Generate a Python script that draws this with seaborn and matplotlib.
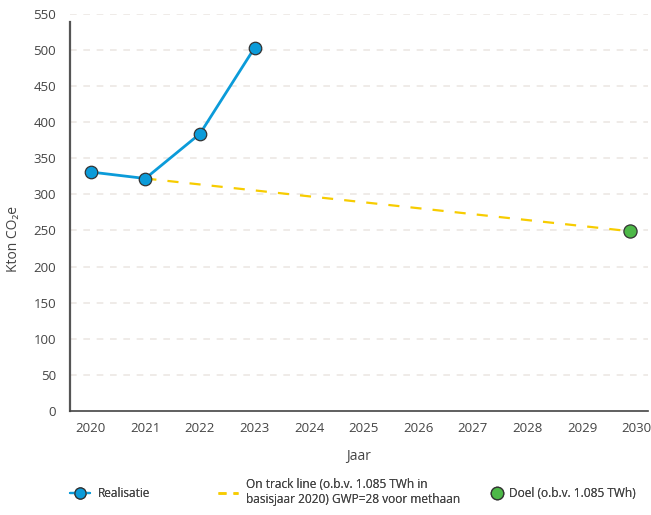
import matplotlib
matplotlib.use("Agg")
import matplotlib.pyplot as plt
from matplotlib.lines import Line2D
import seaborn as sns
import pandas as pd

# data
years = [2020, 2021, 2022, 2023]
realisatie = [331, 322, 384, 503]
track_years = [2021, 2029.87]
track_values = [322, 249]
doel_year = [2029.87]
doel_value = [249]
xticks = list(range(2020, 2031))
yticks = list(range(0, 551, 50))

lbl_real = 'Realisatie'
lbl_track = 'On track line (o.b.v. 1.085 TWh in\nbasisjaar 2020) GWP=28 voor methaan'
lbl_doel = 'Doel (o.b.v. 1.085 TWh)'

sns.set_theme(style="white")
plt.rcParams['font.family'] = ['Open Sans', 'DejaVu Sans']

blue = '#0b9bd9'
yellow = '#f7cc00'
green = '#4db848'
text_col = '#444444'
edge = '#333333'

fig = plt.figure(figsize=(6.51, 5.15), dpi=100)
ax = fig.add_axes([0.1075, 0.202, 0.8875, 0.771])

for y in yticks[1:]:
    ax.axhline(y, color='#ece8e4', lw=1.2, ls=(0, (4, 4)), zorder=0)

sns.lineplot(x=track_years, y=track_values, ax=ax, color=yellow, lw=1.6, zorder=2)
ax.lines[-1].set_dashes([5, 5])
sns.lineplot(x=years, y=realisatie, ax=ax, color=blue, lw=2, marker='o', markersize=9,
             markeredgecolor=edge, markeredgewidth=0.9, zorder=3)
sns.scatterplot(x=doel_year, y=doel_value, ax=ax, color=green, s=90, edgecolor=edge,
                linewidth=0.9, zorder=4)

ax.set_xlim(2019.62, 2030.2)
ax.set_ylim(0, 550)
ax.set_xticks(xticks)
ax.set_yticks(yticks)
ax.tick_params(axis='both', length=0, colors=text_col, labelsize=9.5)
ax.tick_params(axis='x', pad=8)
ax.tick_params(axis='y', pad=10)
for s in ['top', 'right']:
    ax.spines[s].set_visible(False)
ax.spines['left'].set_bounds(0, 539)
ax.spines['left'].set_color('#555555')
ax.spines['left'].set_linewidth(1.6)
ax.spines['bottom'].set_color('#444444')
ax.spines['bottom'].set_linewidth(1.2)
ax.set_xlabel('Jaar', color=text_col, fontsize=10, labelpad=10)
ax.set_ylabel('Kton CO₂e', color=text_col, fontsize=10, labelpad=10)
ax.yaxis.set_label_coords(-0.085, 0.433)

# legend entries, placed one by one like the reference
h_real = Line2D([], [], color=blue, lw=1.6, marker='o', markersize=8,
                markerfacecolor=blue, markeredgecolor=edge, markeredgewidth=0.9)
h_track = Line2D([], [], color=yellow, lw=1.8, dashes=[3.2, 2.8])
h_doel = Line2D([], [], ls='none', marker='o', markersize=9,
                markerfacecolor=green, markeredgecolor=edge, markeredgewidth=0.9)

spots = [(h_real, lbl_real, 0.1075, 0.041, 1.7),
         (h_track, lbl_track, 0.335, 0.045, 1.7),
         (h_doel, lbl_doel, 0.755, 0.041, 0.9)]
for h, lbl, xa, ya, hl in spots:
    leg = fig.legend([h], [lbl], loc='center left', bbox_to_anchor=(xa, ya),
                     frameon=False, fontsize=8.6, handlelength=hl, handletextpad=0.6,
                     borderpad=0, borderaxespad=0, labelcolor=text_col)
    fig.add_artist(leg)

fig.savefig('out.png', dpi=100)
